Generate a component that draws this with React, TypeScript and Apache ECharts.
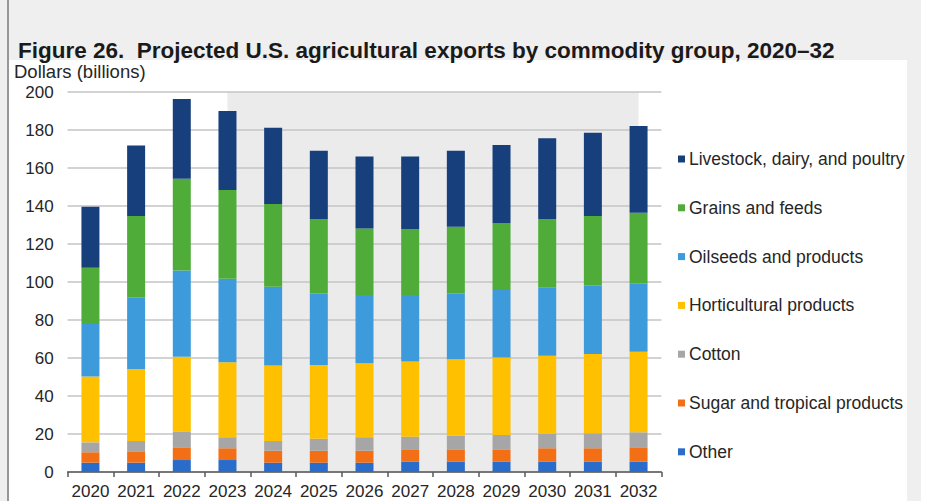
import React, { useEffect, useRef } from "react";
import * as echarts from "echarts";

const years = ["2020","2021","2022","2023","2024","2025","2026","2027","2028","2029","2030","2031","2032"];
const other = [4.9, 4.9, 6.3, 6.3, 4.9, 4.9, 4.9, 5.4, 5.4, 5.4, 5.4, 5.4, 5.4];
const sugar = [5.5, 6.0, 6.7, 6.2, 6.3, 6.3, 6.3, 6.2, 6.5, 6.5, 7.1, 7.1, 7.6];
const cotton = [5.2, 5.4, 8.4, 5.8, 5.1, 6.3, 7.1, 7.0, 7.2, 7.6, 7.5, 7.9, 7.9];
const horticultural = [34.6, 37.9, 39.3, 39.4, 39.8, 38.8, 38.9, 39.6, 40.2, 40.7, 41.2, 41.7, 42.4];
const oilseeds = [27.7, 37.5, 45.3, 44.0, 41.4, 37.7, 36.0, 35.0, 34.7, 35.6, 36.0, 36.0, 36.0];
const grains = [29.6, 43.0, 48.4, 46.7, 43.5, 39.0, 35.0, 34.7, 35.1, 35.1, 36.0, 36.6, 37.2];
const livestock = [32.1, 37.1, 41.9, 41.6, 40.2, 36.1, 37.8, 38.1, 40.0, 41.2, 42.4, 43.9, 45.6];

const seriesNames = [
  "Other",
  "Sugar and tropical products",
  "Cotton",
  "Horticultural products",
  "Oilseeds and products",
  "Grains and feeds",
  "Livestock, dairy, and poultry",
];
const seriesData = [other, sugar, cotton, horticultural, oilseeds, grains, livestock];
const colors = ["#2a6cc9", "#f26f16", "#a6a6a6", "#ffc000", "#3d9bdb", "#4fac38", "#173f7c"];
const projectionStart = "2023";
const projectionEnd = "2032";
const yMin = 0;
const yMax = 200;

export default function App() {
  const ref = useRef<HTMLDivElement>(null);
  useEffect(() => {
    document.body.style.margin = "0";
    const chart = echarts.init(ref.current!, null, { renderer: "svg" });
    const font = "Liberation Sans, Arial, sans-serif";
    const series: any[] = seriesNames.map((name, i) => ({
      name,
      type: "bar",
      stack: "total",
      barWidth: 18,
      data: seriesData[i],
      itemStyle: { color: colors[i] },
    }));
    const baseGraphics: any[] = [
      { id: "bg", type: "rect", silent: true, z: -10, shape: { x: 0, y: 0, width: 921, height: 501 }, style: { fill: "#efefef" } },
      { id: "panel", type: "rect", silent: true, z: -9, shape: { x: 9, y: 60, width: 898, height: 441 }, style: { fill: "#ffffff" } },
      { id: "edge", type: "line", silent: true, z: -8, shape: { x1: 8, y1: 0, x2: 8, y2: 501 }, style: { stroke: "#7a7a7a", lineWidth: 1.5 } },
      {
        id: "unit",
        type: "text",
        left: 14,
        top: 62,
        style: { text: "Dollars (billions)", fontFamily: font, fontSize: 18.5, fill: "#262626" },
      },
    ];
    chart.setOption({
      animation: false,
      backgroundColor: "transparent",
      title: {
        text: "Figure 26.  Projected U.S. agricultural exports by commodity group, 2020–32",
        left: 13,
        top: 34,
        textStyle: { fontFamily: font, fontSize: 22.5, fontWeight: "bold", color: "#1a1a1a" },
      },
      graphic: baseGraphics,
      legend: {
        orient: "vertical",
        left: 673,
        top: 145,
        itemGap: 30.8,
        itemWidth: 7,
        itemHeight: 7,
        icon: "rect",
        data: [...seriesNames].reverse(),
        textStyle: { fontFamily: font, fontSize: 17.5, color: "#262626", padding: [0, 0, 0, -1] },
        selectedMode: false,
      },
      grid: { left: 67.6, right: 268.6, top: 92, bottom: 29, containLabel: false },
      xAxis: {
        type: "category",
        data: years,
        axisLine: { lineStyle: { color: "#595959", width: 1.5 } },
        axisTick: { show: true, length: 5, lineStyle: { color: "#595959", width: 1.5 } },
        axisLabel: { fontFamily: font, fontSize: 17, color: "#262626", margin: 11, interval: 0 },
      },
      yAxis: {
        type: "value",
        min: yMin,
        max: yMax,
        interval: 20,
        axisLine: { show: false },
        axisTick: { show: false },
        splitLine: { lineStyle: { color: "#c4c4c4", width: 1.5 } },
        axisLabel: { fontFamily: font, fontSize: 17, color: "#262626", margin: 14 },
      },
      series,
    });
    const xs = chart.convertToPixel({ xAxisIndex: 0 }, projectionStart) as number;
    const xe = chart.convertToPixel({ xAxisIndex: 0 }, projectionEnd) as number;
    const yt = chart.convertToPixel({ yAxisIndex: 0 }, yMax) as number;
    const yb = chart.convertToPixel({ yAxisIndex: 0 }, yMin) as number;
    chart.setOption({
      graphic: [
        ...baseGraphics,
        {
          id: "projection",
          type: "rect",
          silent: true,
          z: -7,
          shape: { x: xs, y: yt, width: xe - xs, height: yb - yt },
          style: { fill: "#ebebeb" },
        },
      ],
    });
    return () => chart.dispose();
  }, []);
  return <div ref={ref} style={{ width: 930, height: 501 }} />;
}
